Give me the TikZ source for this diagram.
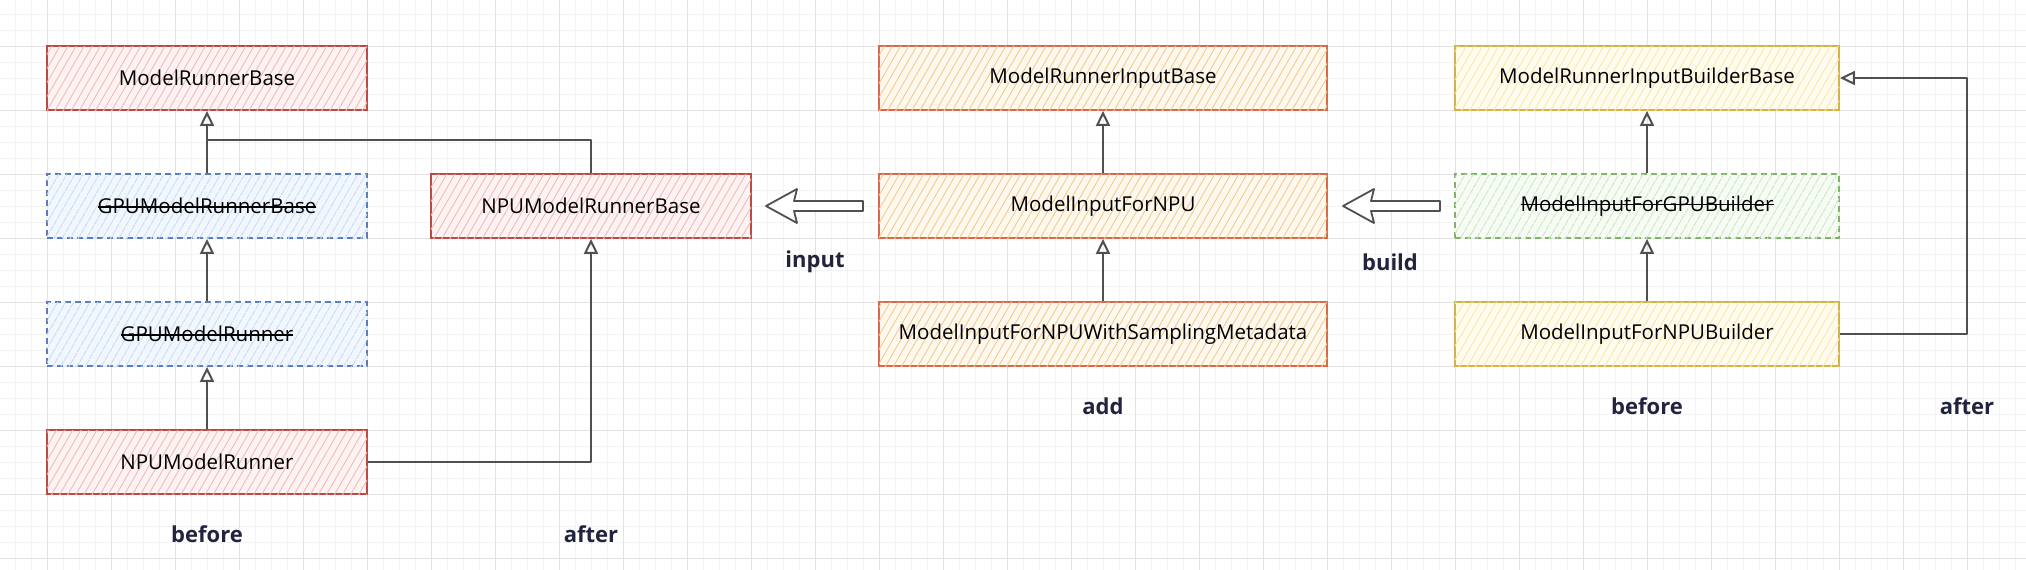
\documentclass[tikz,border=0pt]{standalone}
\usepackage{fontspec}
\setmainfont{Open Sans}
\usetikzlibrary{arrows.meta,patterns.meta}
\definecolor{gridMinor}{HTML}{F3F3F3}
\definecolor{gridMajor}{HTML}{E2E2E2}
\definecolor{redS}{HTML}{BA4A45}
\definecolor{redH}{HTML}{F4B9B7}
\definecolor{redBG}{HTML}{FDF3F3}
\definecolor{blueS}{HTML}{5A7DBE}
\definecolor{blueH}{HTML}{C6DCF7}
\definecolor{blueBG}{HTML}{F2F7FE}
\definecolor{orS}{HTML}{D9694A}
\definecolor{orH}{HTML}{F2CB8E}
\definecolor{orBG}{HTML}{FEF8EF}
\definecolor{yeS}{HTML}{D4B24A}
\definecolor{yeH}{HTML}{F8E7A9}
\definecolor{yeBG}{HTML}{FFFCEF}
\definecolor{grS}{HTML}{7DB468}
\definecolor{grH}{HTML}{CDE7C5}
\definecolor{grBG}{HTML}{F6FBF4}
\definecolor{connC}{HTML}{505050}
\definecolor{labC}{HTML}{22243F}
\newcommand{\strikeit}[1]{\setbox0=\hbox{#1}\rlap{\rule[0.3em]{\wd0}{1.2pt}}\box0}
\begin{document}
\begin{tikzpicture}[x=1pt,y=-1pt,
  box/.style={line width=1.8pt, minimum height=64pt, inner sep=0pt, anchor=center,
    font=\fontsize{20.5}{24}\selectfont},
  hatch/.style n args={3}{draw=#1, fill=#3,
    postaction={pattern={Lines[angle=60,distance=7pt,line width=0.9pt]}, pattern color=#2}},
  redbox/.style={box, hatch={redS}{redH}{redBG}},
  bluebox/.style={box, hatch={blueS}{blueH}{blueBG}, dash pattern=on 6pt off 4pt},
  orbox/.style={box, hatch={orS}{orH}{orBG}},
  yebox/.style={box, hatch={yeS}{yeH}{yeBG}},
  grbox/.style={box, hatch={grS}{grH}{grBG}, dash pattern=on 6pt off 4pt},
  lab/.style={text=labC, font=\fontsize{22}{26}\selectfont\bfseries, inner sep=0pt},
  conn/.style={draw=connC, line width=1.8pt, line join=round},
  arr/.style={conn, -{Triangle[open,length=15pt,width=14pt,line width=2pt]}},
  blockarr/.style={draw=connC, fill=white, line width=1.8pt, line join=round}
]
\useasboundingbox (0,0) rectangle (2026,570);
\fill[white] (0,0) rectangle (2026,570);
% grid
\foreach \x in {15,31,...,2026} \draw[gridMinor, line width=1pt] (\x,0) -- (\x,570);
\foreach \y in {14,30,...,570} \draw[gridMinor, line width=1pt] (0,\y) -- (2026,\y);
\foreach \x in {47,111,...,2026} \draw[gridMajor, line width=1pt] (\x,0) -- (\x,570);
\foreach \y in {46,110,...,570} \draw[gridMajor, line width=1pt] (0,\y) -- (2026,\y);

% left group
\node[redbox, minimum width=320pt] (mrb) at (207,78) {ModelRunnerBase};
\node[bluebox, minimum width=320pt] (gpub) at (207,206) {\strikeit{GPUModelRunnerBase}};
\node[bluebox, minimum width=320pt] (gpu) at (207,334) {\strikeit{GPUModelRunner}};
\node[redbox, minimum width=320pt] (npu) at (207,462) {NPUModelRunner};
\node[redbox, minimum width=320pt] (npub) at (591,206) {NPUModelRunnerBase};
\node[lab] (lb1) at (207,534) {before};
\node[lab] (la1) at (591,534) {after};
\coordinate (jn) at (207,140);

\draw[arr] (gpub.north) -- (mrb.south);
\draw[conn] (npub.north) |- (jn);
\draw[arr] (gpu.north) -- (gpub.south);
\draw[arr] (npu.north) -- (gpu.south);
\draw[arr] (npu.east) -| (npub.south);

% input arrow
\draw[blockarr] (766,206) -- (797,189) -- (794,201) -- (863,201) -- (863,211) -- (794,211) -- (797,223) -- cycle;
\node[lab] (linput) at (815,262) {input};

% middle group
\node[orbox, minimum width=448pt] (mrib) at (1103,78) {ModelRunnerInputBase};
\node[orbox, minimum width=448pt] (mif) at (1103,206) {ModelInputForNPU};
\node[orbox, minimum width=448pt] (mifs) at (1103,334) {ModelInputForNPUWithSamplingMetadata};
\node[lab] (ladd) at (1103,406) {add};
\draw[arr] (mif.north) -- (mrib.south);
\draw[arr] (mifs.north) -- (mif.south);

% build arrow
\draw[blockarr] (1343,206) -- (1374,189) -- (1371,201) -- (1440,201) -- (1440,211) -- (1371,211) -- (1374,223) -- cycle;
\node[lab] (lbuild) at (1390,262) {build};

% right group
\node[yebox, minimum width=384pt] (mribb) at (1647,78) {ModelRunnerInputBuilderBase};
\node[grbox, minimum width=384pt] (mifg) at (1647,206) {\strikeit{ModelInputForGPUBuilder}};
\node[yebox, minimum width=384pt] (mifnb) at (1647,334) {ModelInputForNPUBuilder};
\node[lab] (lb2) at (1647,406) {before};
\node[lab] (la2) at (1967,406) {after};
\coordinate (rt) at (1967,78);
\draw[arr] (mifg.north) -- (mribb.south);
\draw[arr] (mifnb.north) -- (mifg.south);
\draw[arr] (mifnb.east) -| (rt) -- (mribb.east);
\end{tikzpicture}
\end{document}
